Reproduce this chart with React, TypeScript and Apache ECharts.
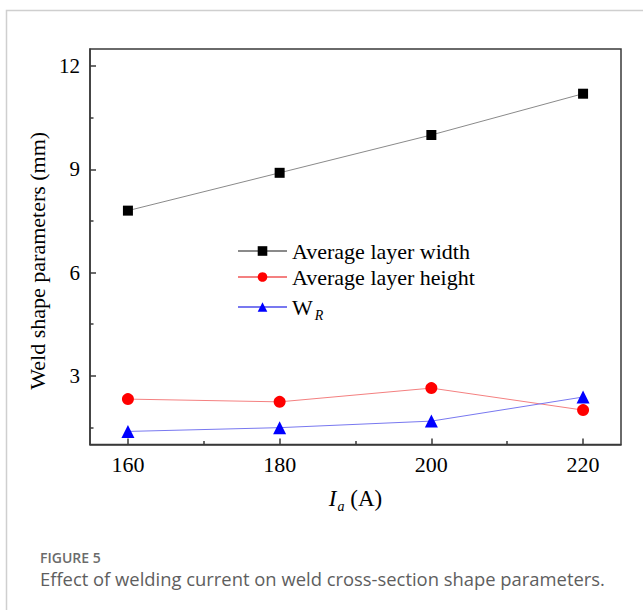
import React, { useEffect, useRef } from "react";
import * as echarts from "echarts";

const xValues = [160, 180, 200, 220];
const widthValues = [7.8, 8.9, 10.0, 11.2];
const heightValues = [2.32, 2.24, 2.64, 2.0];
const wrValues = [1.38, 1.49, 1.68, 2.38];
const xTickLabels = [160, 180, 200, 220];
const xMinorTicks = [170, 190, 210];
const yTickLabels = [3, 6, 9, 12];
const yMinorTicks = [1.5, 4.5, 7.5, 10.5];
const seriesNames = ["Average layer width", "Average layer height", "W_R"];

const SERIF = "'Liberation Serif', 'Times New Roman', serif";
const AXIS_COLOR = "#3a3a3a";

export default function App() {
  const ref = useRef<HTMLDivElement>(null);
  useEffect(() => {
    if (!ref.current) return;
    const chart = echarts.init(ref.current, undefined, { renderer: "svg" });
    const gridRect = { left: 90, top: 49, right: 22, bottom: 165.5 };
    const toPairs = (vals: number[]) => xValues.map((x, i) => [x, vals[i]]);
    chart.setOption({
      animation: false,
      backgroundColor: "#ffffff",
      graphic: [
        {
          type: "rect",
          shape: { x: 6.5, y: 10.5, width: 800, height: 800 },
          style: { fill: "none", stroke: "#cfcfcf", lineWidth: 1.5 },
          silent: true,
        },
        {
          type: "text",
          x: 40,
          y: 557,
          style: {
            text: "FIGURE 5",
            fontFamily: "'Open Sans', 'Noto Sans', sans-serif",
            fontSize: 14,
            fontWeight: 600,
            fill: "#6b6b6b",
            verticalAlign: "middle",
          },
        },
        {
          type: "text",
          x: 40,
          y: 578,
          style: {
            text: "Effect of welding current on weld cross-section shape parameters.",
            fontFamily: "'Open Sans', 'Noto Sans', sans-serif",
            fontSize: 18.4,
            fill: "#5e5e5e",
            verticalAlign: "middle",
          },
        },
      ],
      grid: [
        { ...gridRect, show: true, borderColor: AXIS_COLOR, borderWidth: 1.5, backgroundColor: "transparent" },
        { ...gridRect, show: false },
      ],
      legend: {
        orient: "vertical",
        left: 232,
        top: 235,
        itemWidth: 49,
        itemHeight: 12,
        itemGap: 4,
        data: seriesNames,
        formatter: (name: string) => (name === "W_R" ? "{w|W}{sub|R}" : name),
        textStyle: {
          fontFamily: SERIF,
          fontSize: 22,
          color: "#000",
          lineHeight: 22,
          rich: {
            w: { fontFamily: SERIF, fontSize: 22, color: "#000", lineHeight: 22 },
            sub: { fontFamily: SERIF, fontSize: 14, fontStyle: "italic", color: "#000", lineHeight: 22, padding: [16, 0, 0, 2] },
          },
        },
      },
      xAxis: [
        {
          type: "value",
          gridIndex: 0,
          min: 155,
          max: 225,
          name: "{i|I}{sub|a}{n| (A)}",
          nameLocation: "middle",
          nameGap: 41,
          nameTextStyle: {
            rich: {
              i: { fontFamily: SERIF, fontSize: 23, fontStyle: "italic", color: "#000", lineHeight: 26 },
              sub: { fontFamily: SERIF, fontSize: 14, fontStyle: "italic", color: "#000", lineHeight: 26, padding: [16, 0, 0, 1] },
              n: { fontFamily: SERIF, fontSize: 23, color: "#000", lineHeight: 26 },
            },
          },
          axisLine: { show: true, onZero: false, lineStyle: { color: AXIS_COLOR, width: 1.5 } },
          axisTick: { show: true, inside: true, length: 6, customValues: xTickLabels, lineStyle: { color: AXIS_COLOR, width: 1.5 } },
          axisLabel: { customValues: xTickLabels, fontFamily: SERIF, fontSize: 22, color: "#000", margin: 9 },
          splitLine: { show: false },
        },
        {
          type: "value",
          gridIndex: 1,
          min: 155,
          max: 225,
          axisLine: { show: false },
          axisTick: { show: true, inside: true, length: 3.5, customValues: xMinorTicks, lineStyle: { color: AXIS_COLOR, width: 1.5 } },
          axisLabel: { show: false },
          splitLine: { show: false },
        },
      ],
      yAxis: [
        {
          type: "value",
          gridIndex: 0,
          min: 1,
          max: 12.5,
          name: "Weld shape parameters (mm)",
          nameLocation: "middle",
          nameGap: 37,
          nameTextStyle: { fontFamily: SERIF, fontSize: 22, color: "#000", padding: [0, 28, 0, 0] },
          axisLine: { show: true, onZero: false, lineStyle: { color: AXIS_COLOR, width: 1.5 } },
          axisTick: { show: true, inside: true, length: 6, customValues: yTickLabels, lineStyle: { color: AXIS_COLOR, width: 1.5 } },
          axisLabel: { customValues: yTickLabels, fontFamily: SERIF, fontSize: 21, color: "#000", margin: 10 },
          splitLine: { show: false },
        },
        {
          type: "value",
          gridIndex: 1,
          min: 1,
          max: 12.5,
          axisLine: { show: false },
          axisTick: { show: true, inside: true, length: 3.5, customValues: yMinorTicks, lineStyle: { color: AXIS_COLOR, width: 1.5 } },
          axisLabel: { show: false },
          splitLine: { show: false },
        },
      ],
      series: [
        {
          name: seriesNames[0],
          type: "line",
          xAxisIndex: 0,
          yAxisIndex: 0,
          data: toPairs(widthValues),
          symbol: "rect",
          symbolSize: 10,
          itemStyle: { color: "#000" },
          lineStyle: { color: "#8a8a8a", width: 1 },
        },
        {
          name: seriesNames[1],
          type: "line",
          xAxisIndex: 0,
          yAxisIndex: 0,
          data: toPairs(heightValues),
          symbol: "circle",
          symbolSize: 12,
          itemStyle: { color: "#ff0000" },
          lineStyle: { color: "#f48080", width: 1 },
        },
        {
          name: seriesNames[2],
          type: "line",
          xAxisIndex: 0,
          yAxisIndex: 0,
          data: toPairs(wrValues),
          symbol: "triangle",
          symbolSize: 13,
          itemStyle: { color: "#0000ff" },
          lineStyle: { color: "#7878f0", width: 1 },
        },
      ],
    });
    return () => chart.dispose();
  }, []);
  return <div ref={ref} style={{ position: "absolute", left: 0, top: 0, width: 643, height: 610 }} />;
}
